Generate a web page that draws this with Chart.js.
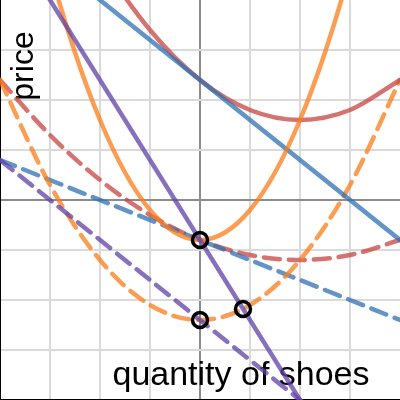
<!DOCTYPE html>
<html lang="en">
<head>
    <meta charset="UTF-8">
    <title>Shoes</title>
    <script src="https://cdn.jsdelivr.net/npm/chart.js"></script>
    <style>
        html, body {
            margin: 0;
            padding: 0;
            background: #fff;
        }
        canvas {
            display: block;
        }
    </style>
</head>
<body>
    <canvas id="chart" width="400" height="400"></canvas>

    <script>
        // values (graph units, -4..4 on both axes)
        const gridValues = [-4, -3, -2, -1, 0, 1, 2, 3, 4];

        const blueX = [-4, 4];
        const blueY = [5.6, -0.8];
        const blueDashX = [-4, 4];
        const blueDashY = [0.8, -2.4];

        const purpleX = [-4, 4];
        const purpleY = [5.6, -7.2];
        const purpleDashX = [-4, 4];
        const purpleDashY = [0.8, -5.6];

        const orangeX = [-3.5, -3, -2.5, -2, -1.5, -1, -0.5, 0, 0.5, 1, 1.5, 2, 2.5, 3, 3.5];
        const orangeY = [6.55, 4.6, 2.95, 1.6, 0.55, -0.2, -0.65, -0.8, -0.65, -0.2, 0.55, 1.6, 2.95, 4.6, 6.55];
        const orangeDashX = [-4, -3, -2, -1, 0, 1, 2, 3, 4];
        const orangeDashY = [2.4, 0.3, -1.2, -2.1, -2.4, -2.1, -1.2, 0.3, 2.4];

        const redX = [-2.5, -2, -1, 0, 1, 2, 3, 4];
        const redY = [5.65, 4.8, 3.4, 2.4, 1.8, 1.6, 1.8, 2.4];
        const redDashX = [-4, -3, -2, -1, 0, 1, 2, 3, 4];
        const redDashY = [2.4, 1.3, 0.4, -0.3, -0.8, -1.1, -1.2, -1.1, -0.8];

        const markX = [0, 0, 0.86];
        const markY = [-0.8, -2.4, -2.18];

        const xTitle = 'quantity of shoes';
        const yTitle = 'price';

        const BLUE = 'rgba(45, 112, 179, 0.75)';
        const RED = 'rgba(199, 68, 64, 0.75)';
        const ORANGE = 'rgba(250, 126, 25, 0.75)';
        const PURPLE = 'rgba(96, 66, 166, 0.75)';
        const DASH = [16, 9];

        function pts(xs, ys) {
            return xs.map((x, i) => ({ x: x, y: ys[i] }));
        }

        function curve(xs, ys, color, dashed) {
            return {
                data: pts(xs, ys),
                showLine: true,
                borderColor: color,
                borderWidth: 4.5,
                borderDash: dashed ? DASH : [],
                borderCapStyle: 'round',
                cubicInterpolationMode: 'monotone',
                pointRadius: 0,
                pointHoverRadius: 0
            };
        }

        // axis titles, drawn under the curves
        const titles = {
            id: 'titles',
            beforeDatasetsDraw(chart) {
                const ctx = chart.ctx;
                ctx.save();
                ctx.fillStyle = '#000';
                ctx.textBaseline = 'alphabetic';
                ctx.textAlign = 'center';
                ctx.font = '34px "Liberation Sans", Arial, sans-serif';
                ctx.fillText(xTitle, 241, 385);
                ctx.font = '32px "Liberation Sans", Arial, sans-serif';
                ctx.translate(33, 66);
                ctx.rotate(-Math.PI / 2);
                ctx.fillText(yTitle, 0, 0);
                ctx.restore();
            }
        };

        function gridColor(c) {
            if (c.tick.value === 0) return '#8c8c8c';
            if (c.tick.value === 4) return 'rgba(0,0,0,0)';
            return '#dadada';
        }

        function axis() {
            return {
                type: 'linear',
                min: -4,
                max: 4,
                afterBuildTicks: (s) => { s.ticks = gridValues.map(v => ({ value: v })); },
                ticks: { display: false },
                grid: { color: gridColor, lineWidth: 2, drawTicks: false },
                border: { display: true, color: '#000', width: 2 }
            };
        }

        new Chart(document.getElementById('chart'), {
            type: 'scatter',
            data: {
                datasets: [
                    {
                        data: pts(markX, markY),
                        pointRadius: 7.5,
                        pointBorderWidth: 3.5,
                        pointBorderColor: '#000',
                        pointBackgroundColor: 'rgba(0,0,0,0)',
                        pointHoverRadius: 7.5
                    },
                    curve(purpleX, purpleY, PURPLE, false),
                    curve(orangeX, orangeY, ORANGE, false),
                    curve(blueX, blueY, BLUE, false),
                    curve(redX, redY, RED, false),
                    curve(purpleDashX, purpleDashY, PURPLE, true),
                    curve(orangeDashX, orangeDashY, ORANGE, true),
                    curve(blueDashX, blueDashY, BLUE, true),
                    curve(redDashX, redDashY, RED, true)
                ]
            },
            options: {
                responsive: false,
                animation: false,
                layout: { padding: 0, autoPadding: false },
                plugins: {
                    legend: { display: false },
                    tooltip: { enabled: false }
                },
                scales: {
                    x: axis(),
                    y: axis()
                }
            },
            plugins: [titles]
        });
    </script>
</body>
</html>
